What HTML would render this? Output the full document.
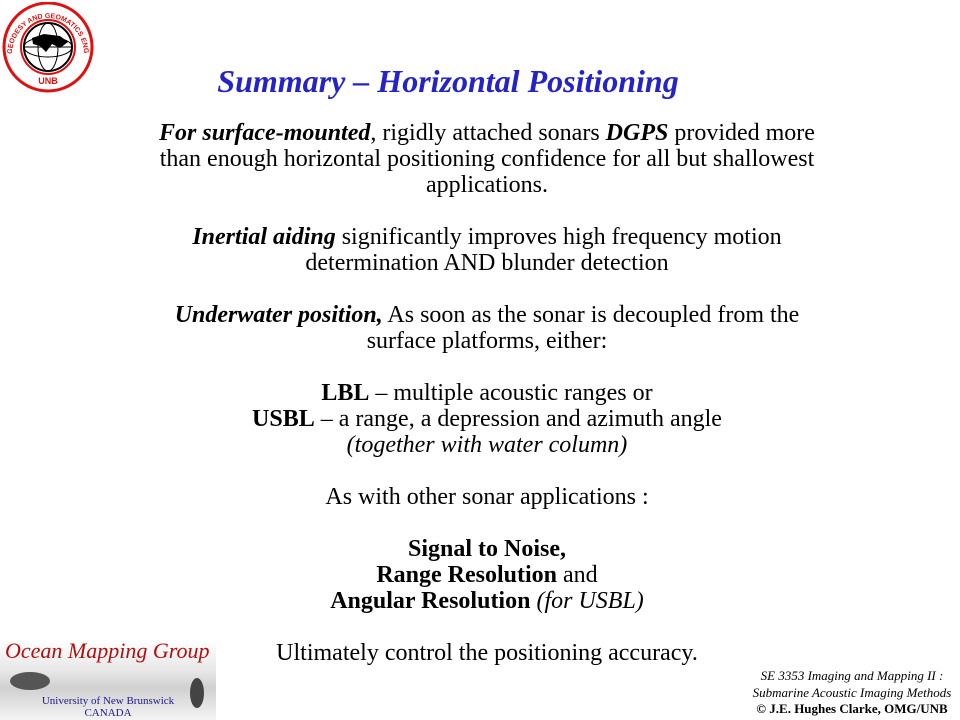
<!DOCTYPE html>
<html><head><meta charset="utf-8"><style>
body{margin:0;width:960px;height:720px;background:#fff;position:relative;overflow:hidden;font-family:"Liberation Serif",serif;}
.l{position:absolute;left:0;width:974px;text-align:center;font-size:24px;line-height:26px;height:26px;color:#000;white-space:nowrap;margin-top:2px}
#title{position:absolute;left:0;width:896px;top:62px;text-align:center;font-size:32px;font-weight:bold;font-style:italic;color:#2323c8;line-height:38px;white-space:nowrap}
.foot{position:absolute;left:746px;width:212px;text-align:center;font-size:13px;line-height:17px;font-style:italic;white-space:nowrap}
</style></head><body>
<svg style="position:absolute;left:2px;top:2px" width="92" height="92" viewBox="0 0 92 92">
<defs><path id="arc" d="M10 52 A36 36 0 1 1 82 52"/></defs>
<circle cx="46" cy="45" r="44" fill="#fff" stroke="#e01010" stroke-width="3"/>
<circle cx="46" cy="45" r="27" fill="#fff" stroke="#e01010" stroke-width="2"/>
<circle cx="46" cy="45" r="24" fill="#fff" stroke="#000" stroke-width="2"/>
<ellipse cx="46" cy="45" rx="24" ry="10" fill="none" stroke="#000"/>
<ellipse cx="46" cy="45" rx="10" ry="24" fill="none" stroke="#000"/>
<line x1="22" y1="45" x2="70" y2="45" stroke="#000"/>
<path d="M30 36 L42 32 L58 34 L66 40 L58 46 L50 42 L44 50 L38 44 L31 42Z" fill="#000"/>
<text font-size="7" font-weight="bold" fill="#e01010" font-family="Liberation Sans"><textPath href="#arc">GEODESY AND GEOMATICS ENGINEERING</textPath></text>
<text x="46" y="82" font-size="9" font-weight="bold" fill="#e01010" text-anchor="middle" font-family="Liberation Sans">UNB</text>
</svg>
<div id="title">Summary – Horizontal Positioning</div>
<div class="l" style="top:118px"><b><i>For surface-mounted</i></b>, rigidly attached sonars <b><i>DGPS</i></b> provided more</div>
<div class="l" style="top:144px">than enough horizontal positioning confidence for all but shallowest</div>
<div class="l" style="top:170px">applications.</div>
<div class="l" style="top:222px"><b><i>Inertial aiding</i></b> significantly improves high frequency motion</div>
<div class="l" style="top:248px">determination AND blunder detection</div>
<div class="l" style="top:300px"><b><i>Underwater position,</i></b> As soon as the sonar is decoupled from the</div>
<div class="l" style="top:326px">surface platforms, either:</div>
<div class="l" style="top:378px"><b>LBL</b> – multiple acoustic ranges or</div>
<div class="l" style="top:404px"><b>USBL</b> – a range, a depression and azimuth angle</div>
<div class="l" style="top:430px"><i>(together with water column)</i></div>
<div class="l" style="top:482px">As with other sonar applications :</div>
<div class="l" style="top:534px"><b>Signal to Noise,</b></div>
<div class="l" style="top:560px"><b>Range Resolution</b> and</div>
<div class="l" style="top:586px"><b>Angular Resolution</b> <i>(for USBL)</i></div>
<div class="l" style="top:638px">Ultimately control the positioning accuracy.</div>
<div style="position:absolute;left:0;top:640px;width:216px;height:80px;background:linear-gradient(180deg,#fff 0%,#e6e6e6 40%,#d0d0d0 60%,#f4f4f4 100%)">
<div style="position:absolute;left:5px;top:-2px;font-size:22px;font-style:italic;color:#b01010;white-space:nowrap">Ocean Mapping Group</div>
<div style="position:absolute;left:10px;top:32px;width:40px;height:18px;background:#555;border-radius:50%"></div>
<div style="position:absolute;left:190px;top:38px;width:14px;height:30px;background:#444;border-radius:50%"></div>
<div style="position:absolute;left:0;width:216px;top:55px;text-align:center;font-size:11px;line-height:12px;color:#1a1a8c">University of New Brunswick<br>CANADA</div>
</div>
<div class="foot" style="top:667px">SE 3353 Imaging and Mapping II :</div>
<div class="foot" style="top:684px">Submarine Acoustic Imaging Methods</div>
<div class="foot" style="top:700px;font-style:normal;font-weight:bold;font-size:13px">© J.E. Hughes Clarke, OMG/UNB</div>
</body></html>
